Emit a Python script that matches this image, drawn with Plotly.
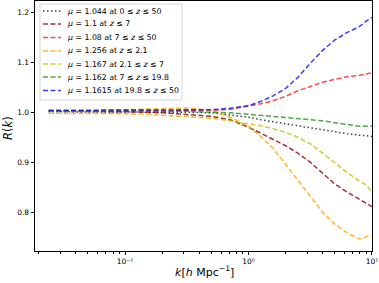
import plotly.graph_objects as go

k = [0.024, 0.05, 0.1, 0.2, 0.32, 0.5, 0.71, 1.0, 1.26, 1.58, 2.0, 2.51, 3.16, 3.98, 5.01, 6.31, 7.94, 8.91, 10.0]

r_black = [1.001, 1.001, 1.001, 1.001, 1.000, 0.999, 0.995, 0.990, 0.985, 0.981, 0.977, 0.972, 0.968, 0.964, 0.960, 0.957, 0.954, 0.953, 0.952]
r_brown = [1.002, 1.002, 1.001, 0.999, 0.996, 0.992, 0.985, 0.970, 0.958, 0.946, 0.933, 0.918, 0.900, 0.878, 0.856, 0.840, 0.826, 0.818, 0.811]
r_red = [1.003, 1.003, 1.003, 1.004, 1.004, 1.004, 1.006, 1.012, 1.017, 1.023, 1.032, 1.043, 1.051, 1.060, 1.066, 1.071, 1.074, 1.076, 1.079]
r_orange = [1.003, 1.003, 1.005, 1.008, 1.009, 1.003, 0.990, 0.972, 0.951, 0.928, 0.895, 0.865, 0.831, 0.800, 0.776, 0.758, 0.746, 0.750, 0.754]
r_yellow = [0.998, 0.998, 0.997, 0.994, 0.991, 0.988, 0.983, 0.977, 0.973, 0.967, 0.960, 0.950, 0.937, 0.918, 0.899, 0.879, 0.862, 0.855, 0.841]
r_green = [1.003, 1.003, 1.003, 1.003, 1.002, 1.000, 0.999, 0.996, 0.994, 0.992, 0.990, 0.988, 0.986, 0.983, 0.979, 0.975, 0.972, 0.972, 0.972]
r_blue = [1.004, 1.004, 1.004, 1.004, 1.004, 1.005, 1.008, 1.013, 1.022, 1.033, 1.048, 1.070, 1.098, 1.124, 1.145, 1.160, 1.172, 1.182, 1.190]

labels = [
    "<i>μ</i> = 1.044 at 0 ≤ <i>z</i> ≤ 50",
    "<i>μ</i> = 1.1 at <i>z</i> ≤ 7",
    "<i>μ</i> = 1.08 at 7 ≤ <i>z</i> ≤ 50",
    "<i>μ</i> = 1.256 at <i>z</i> ≤ 2.1",
    "<i>μ</i> = 1.167 at 2.1 ≤ <i>z</i> ≤ 7",
    "<i>μ</i> = 1.162 at 7 ≤ <i>z</i> ≤ 19.8",
    "<i>μ</i> = 1.1615 at 19.8 ≤ <i>z</i> ≤ 50",
]
x_ticks = [0.1, 1, 10]
x_ticktext = ["10⁻¹", "10⁰", "10¹"]
y_ticks = [0.8, 0.9, 1.0, 1.1, 1.2]
y_ticktext = ["0.8", "0.9", "1.0", "1.1", "1.2"]

series = [r_black, r_brown, r_red, r_orange, r_yellow, r_green, r_blue]
colors = ["rgba(40,40,40,0.9)", "rgba(139,0,0,0.8)", "rgba(255,0,0,0.7)", "rgba(255,165,0,0.8)",
          "rgba(191,191,0,0.8)", "rgba(0,128,0,0.7)", "rgba(0,0,255,0.75)"]
dashes = ["1.5px,2.5px"] + ["5px,2.5px"] * 6

W, H = 379, 283
ML, MR, MT, MB = 35, 7, 1, 32
PW, PH = W - ML - MR, H - MT - MB


def px(x):
    return (x - ML) / PW


def py(y):
    return 1 - (y - MT) / PH


fig = go.Figure()
for lab, ys, c, d in zip(labels, series, colors, dashes):
    fig.add_trace(go.Scatter(x=k, y=ys, mode="lines", name=lab, showlegend=False,
                             line=dict(color=c, width=1.5, dash=d)))

# legend box drawn by hand (matplotlib-style compact legend)
shapes = [dict(type="rect", xref="paper", yref="paper", x0=px(40), x1=px(182), y0=py(100), y1=py(4),
               line=dict(color="#d5d5d5", width=1), fillcolor="rgba(255,255,255,0.8)", layer="above")]
annotations = []
row_y = [11, 24, 37.5, 51, 64, 77, 90.5]
for lab, c, d, yy in zip(labels, colors, dashes, row_y):
    shapes.append(dict(type="line", xref="paper", yref="paper", x0=px(43), x1=px(61), y0=py(yy), y1=py(yy),
                       line=dict(color=c, width=1.5, dash=d), layer="above"))
    annotations.append(dict(text=lab, xref="paper", yref="paper", x=px(65), y=py(yy),
                            xanchor="left", yanchor="middle", showarrow=False,
                            font=dict(size=7.8, family="DejaVu Sans", color="black")))

# axis titles
annotations.append(dict(text="<i>k</i>[<i>h</i> Mpc<sup>−1</sup>]", xref="paper", yref="paper",
                        x=px(204), y=py(271), xanchor="center", yanchor="middle", showarrow=False,
                        font=dict(size=11, family="DejaVu Sans", color="black")))
annotations.append(dict(text="<i>R</i>(<i>k</i>)", xref="paper", yref="paper",
                        x=px(8), y=py(128), xanchor="center", yanchor="middle", showarrow=False,
                        textangle=-90, font=dict(size=11.5, family="DejaVu Sans", color="black")))

minor_vals = [m * 10 ** e for e in (-2, -1, 0) for m in range(2, 10)]

fig.update_layout(
    width=W, height=H,
    margin=dict(l=ML, r=MR, t=MT, b=MB),
    plot_bgcolor="white", paper_bgcolor="white",
    font=dict(family="DejaVu Sans", size=7.5, color="black"),
    showlegend=False,
    shapes=shapes, annotations=annotations,
)
fig.update_xaxes(type="log", range=[-1.73, 1.0005], automargin=False,
                 tickvals=x_ticks, ticktext=x_ticktext,
                 ticks="outside", ticklen=3.5, tickwidth=0.8, tickcolor="black",
                 minor=dict(tickvals=minor_vals, ticks="outside", ticklen=2, tickwidth=0.6,
                            tickcolor="black", showgrid=False),
                 showline=True, linecolor="black", linewidth=0.8, mirror=True,
                 showgrid=False, zeroline=False)
fig.update_yaxes(range=[0.722, 1.223], automargin=False,
                 tickvals=y_ticks, ticktext=y_ticktext,
                 ticks="outside", ticklen=3.5, tickwidth=0.8, tickcolor="black",
                 showline=True, linecolor="black", linewidth=0.8, mirror=True,
                 showgrid=False, zeroline=False)

fig.write_html("out.html", config={"displayModeBar": False},
               post_script="document.body.style.margin='0';document.body.style.overflow='hidden';")
